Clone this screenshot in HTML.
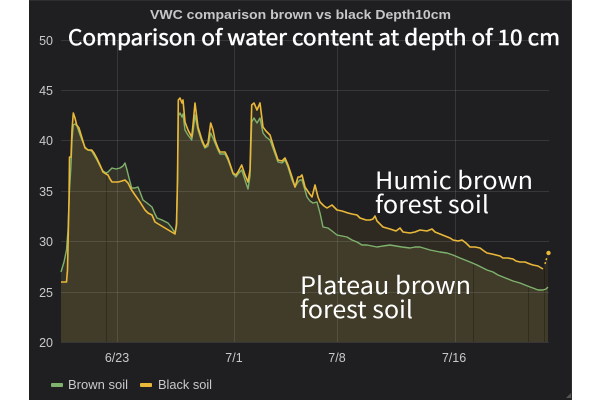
<!DOCTYPE html>
<html>
<head>
<meta charset="utf-8">
<style>
  html,body{margin:0;padding:0;background:#ffffff;}
  body{width:600px;height:400px;overflow:hidden;}
  svg{display:block;}
</style>
</head>
<body>
<svg width="600" height="400" viewBox="0 0 600 400" xmlns="http://www.w3.org/2000/svg">
  <!-- panel -->
  <rect x="0" y="0" width="600" height="400" fill="#ffffff"/>
  <rect x="29" y="0" width="543" height="400" fill="#1f1f21"/>
  <line x1="29" y1="0.5" x2="572" y2="0.5" stroke="#2e2e30" stroke-width="1"/>
  <line x1="571.5" y1="0" x2="571.5" y2="400" stroke="#2e2e30" stroke-width="1"/>
  <path d="M566 398 L571 398 L571 393 Z" fill="#555"/>

  <!-- yellow fill -->
  <path fill="rgba(234,184,57,0.08)" d="M61,342 L61,282 L66.5,282 L67.5,270 L69,200 L69.5,157 L71,157 L72,130 L73.3,113 L75,118 L76.7,125 L79,128 L82,138 L85,148 L88,150 L91.7,150 L94,153 L96.7,158 L100,165 L103,172 L106,174 L108,175 L110,179 L112,182 L118,182 L122,181 L125,180 L128,183 L131,189 L135,195 L140,202 L145,210 L148,213 L152,215 L155,222 L160,225 L165,228 L170,231 L175,234 L176.5,224 L177.5,180 L178.3,100 L180,98 L182,103 L183,100 L185,122 L188,130 L191.7,137 L193,125 L195,103 L198,127 L202,140 L205,147 L208,143 L210.7,123 L213,130 L215,140 L218,148 L220,152 L225,152 L228,158 L231,167 L233,173 L236,175 L238,172 L241.7,165 L245,175 L248,182 L250,170 L251.7,105 L254,103 L257,110 L260,103 L263,127 L266,131 L270,135 L274,148 L278,160 L282,161 L285,158 L288,165 L292,177 L295,187 L298,177 L300,177 L302,175 L305,187 L309,193 L312,197 L315,185 L318,197 L320,202 L324,206 L327,208 L332,205 L337,210 L342,211 L348,213 L352,214 L357,215 L360,218 L366,220 L370,220 L373,219 L375,216 L377,221 L383,227 L390,229 L396,231 L400,228 L403,232 L410,233 L415,232 L420,230 L427,231 L432,229 L435,232 L440,234 L445,236 L450,238 L453,240 L458,241 L462,240 L466,243 L470,247 L475,247 L480,248 L484,251 L487,253 L492,254 L496,255 L500,256 L503,258 L508,258 L513,259 L516,261 L520,262 L525,262 L530,264 L533,265 L538,266 L543,269 L548,253 L548,342 Z"/>
  <!-- green fill -->
  <path fill="rgba(190,183,100,0.13)" d="M61,342 L61,272 L64,262 L66.5,250 L68,230 L69.5,190 L71,165 L72,140 L73.3,125 L75,124 L77,126 L79,132 L82,140 L85,147 L88,150 L91.7,151 L94,155 L97,160 L100,166 L103,171 L106,173 L108,172 L110,170 L112,168 L116,169 L120,168 L123,166 L125,163 L127,170 L129,178 L131.7,188 L135,188 L138,187 L140,192 L143,200 L147,203 L152,207 L155,214 L157,218 L162,220 L168,223 L172,228 L175,233 L176.5,226 L177.5,180 L178.3,116 L180,113 L182,117 L183,114 L185,130 L188,135 L191.7,140 L193,132 L195,115 L198,130 L202,142 L205,148 L208,146 L210.7,133 L213,138 L215,143 L218,150 L220,154 L225,154 L228,160 L231,168 L233,174 L236,177 L238,174 L241.7,170 L245,180 L248,189 L250,176 L251.7,122 L254,118 L257,123 L260,118 L263,133 L266,137 L270,140 L274,151 L278,162 L282,163 L285,160 L288,167 L292,180 L295,187 L298,182 L300,180 L302,180 L305,190 L307,197 L310,201 L313,203 L317,202 L320,213 L323,227 L328,228 L332,231 L337,235 L342,236 L347,237 L352,240 L357,242 L362,245 L367,245 L372,246 L377,247 L383,246 L390,245 L396,246 L402,247 L410,248 L415,247 L420,247 L430,250 L440,252 L447,253 L453,255 L460,258 L465,260 L470,262 L477,265 L483,268 L487,270 L493,272 L498,275 L503,277 L508,279 L513,281 L520,283 L525,285 L530,287 L533,288 L538,290 L543,290 L546,289 L548,287 L548,342 Z"/>

  <!-- dark seam lines -->
  <g stroke="rgba(0,0,0,0.25)" stroke-width="1">
    <line x1="106.5" y1="174" x2="106.5" y2="342"/>
    <line x1="473.5" y1="263" x2="473.5" y2="342"/>
    <line x1="528.5" y1="286" x2="528.5" y2="342"/>
    <line x1="544.5" y1="268" x2="544.5" y2="342"/>
  </g>

  <!-- grid -->
  <g stroke="rgba(255,255,255,0.11)" stroke-width="1">
    <line x1="61" y1="40.5" x2="549" y2="40.5"/>
    <line x1="61" y1="90.5" x2="549" y2="90.5"/>
    <line x1="61" y1="140.5" x2="549" y2="140.5"/>
    <line x1="61" y1="191.5" x2="549" y2="191.5"/>
    <line x1="61" y1="241.5" x2="549" y2="241.5"/>
    <line x1="61" y1="292.5" x2="549" y2="292.5"/>
    <line x1="61" y1="342.5" x2="549" y2="342.5"/>
    <line x1="117.5" y1="40" x2="117.5" y2="342"/>
    <line x1="234.5" y1="40" x2="234.5" y2="342"/>
    <line x1="337.5" y1="40" x2="337.5" y2="342"/>
    <line x1="455.5" y1="40" x2="455.5" y2="342"/>
  </g>

  <!-- green line -->
  <polyline fill="none" stroke="#7eb26d" stroke-width="1.4" stroke-linejoin="round" points="61,272 64,262 66.5,250 68,230 69.5,190 71,165 72,140 73.3,125 75,124 77,126 79,132 82,140 85,147 88,150 91.7,151 94,155 97,160 100,166 103,171 106,173 108,172 110,170 112,168 116,169 120,168 123,166 125,163 127,170 129,178 131.7,188 135,188 138,187 140,192 143,200 147,203 152,207 155,214 157,218 162,220 168,223 172,228 175,233 176.5,226 177.5,180 178.3,116 180,113 182,117 183,114 185,130 188,135 191.7,140 193,132 195,115 198,130 202,142 205,148 208,146 210.7,133 213,138 215,143 218,150 220,154 225,154 228,160 231,168 233,174 236,177 238,174 241.7,170 245,180 248,189 250,176 251.7,122 254,118 257,123 260,118 263,133 266,137 270,140 274,151 278,162 282,163 285,160 288,167 292,180 295,187 298,182 300,180 302,180 305,190 307,197 310,201 313,203 317,202 320,213 323,227 328,228 332,231 337,235 342,236 347,237 352,240 357,242 362,245 367,245 372,246 377,247 383,246 390,245 396,246 402,247 410,248 415,247 420,247 430,250 440,252 447,253 453,255 460,258 465,260 470,262 477,265 483,268 487,270 493,272 498,275 503,277 508,279 513,281 520,283 525,285 530,287 533,288 538,290 543,290 546,289 548,287"/>

  <!-- yellow line -->
  <polyline fill="none" stroke="#eab839" stroke-width="1.6" stroke-linejoin="round" points="61,282 66.5,282 67.5,270 69,200 69.5,157 71,157 72,130 73.3,113 75,118 76.7,125 79,128 82,138 85,148 88,150 91.7,150 94,153 96.7,158 100,165 103,172 106,174 108,175 110,179 112,182 118,182 122,181 125,180 128,183 131,189 135,195 140,202 145,210 148,213 152,215 155,222 160,225 165,228 170,231 175,234 176.5,224 177.5,180 178.3,100 180,98 182,103 183,100 185,122 188,130 191.7,137 193,125 195,103 198,127 202,140 205,147 208,143 210.7,123 213,130 215,140 218,148 220,152 225,152 228,158 231,167 233,173 236,175 238,172 241.7,165 245,175 248,182 250,170 251.7,105 254,103 257,110 260,103 263,127 266,131 270,135 274,148 278,160 282,161 285,158 288,165 292,177 295,187 298,177 300,177 302,175 305,187 309,193 312,197 315,185 318,197 320,202 324,206 327,208 332,205 337,210 342,211 348,213 352,214 357,215 360,218 366,220 370,220 373,219 375,216 377,221 383,227 390,229 396,231 400,228 403,232 410,233 415,232 420,230 427,231 432,229 435,232 440,234 445,236 450,238 453,240 458,241 462,240 466,243 470,247 475,247 480,248 484,251 487,253 492,254 496,255 500,256 503,258 508,258 513,259 516,261 520,262 525,262 530,264 533,265 538,266 543,269"/>
  <line x1="545" y1="264" x2="547" y2="257" stroke="#eab839" stroke-width="1.5" stroke-dasharray="2,2"/>
  <circle cx="548.5" cy="253" r="2.2" fill="#eab839"/>

  <!-- y axis labels -->
  <g font-family="Liberation Sans, sans-serif" font-size="12.5" fill="#c9c9cb" text-anchor="end">
    <text x="53" y="45">50</text>
    <text x="53" y="95">45</text>
    <text x="53" y="145">40</text>
    <text x="53" y="196">35</text>
    <text x="53" y="246">30</text>
    <text x="53" y="297">25</text>
    <text x="53" y="347">20</text>
  </g>
  <!-- x axis labels -->
  <g font-family="Liberation Sans, sans-serif" font-size="12.5" fill="#c9c9cb" text-anchor="middle">
    <text x="117" y="362">6/23</text>
    <text x="234" y="362">7/1</text>
    <text x="337" y="362">7/8</text>
    <text x="454" y="362">7/16</text>
  </g>

  <!-- panel title -->
  <text x="150" y="19" font-family="Liberation Sans, sans-serif" font-weight="bold" font-size="13" fill="#c7c7c9" textLength="301" lengthAdjust="spacingAndGlyphs">VWC comparison brown vs black Depth10cm</text>

  <!-- big overlay title -->
  <text x="68" y="45" font-family="'Noto Sans CJK JP', 'Liberation Sans', sans-serif" font-size="21" fill="#ffffff" stroke="#ffffff" stroke-width="0.5" textLength="492" lengthAdjust="spacingAndGlyphs">Comparison of water content at depth of 10 cm</text>

  <!-- annotations -->
  <g font-family="'Noto Sans CJK JP', 'Liberation Sans', sans-serif" font-size="24" fill="#ffffff">
    <text x="375" y="189" textLength="158" lengthAdjust="spacingAndGlyphs">Humic brown</text>
    <text x="375" y="213" textLength="114" lengthAdjust="spacingAndGlyphs">forest soil</text>
    <text x="300" y="294" textLength="171" lengthAdjust="spacingAndGlyphs">Plateau brown</text>
    <text x="300" y="318" textLength="113" lengthAdjust="spacingAndGlyphs">forest soil</text>
  </g>

  <!-- legend -->
  <rect x="51" y="383" width="12" height="4" rx="1" fill="#7eb26d"/>
  <text x="68" y="389" font-family="Liberation Sans, sans-serif" font-size="12.5" fill="#c9c9cb" textLength="60" lengthAdjust="spacingAndGlyphs">Brown soil</text>
  <rect x="140" y="383" width="12" height="4" rx="1" fill="#eab839"/>
  <text x="158" y="389" font-family="Liberation Sans, sans-serif" font-size="12.5" fill="#c9c9cb" textLength="54" lengthAdjust="spacingAndGlyphs">Black soil</text>
</svg>
</body>
</html>
